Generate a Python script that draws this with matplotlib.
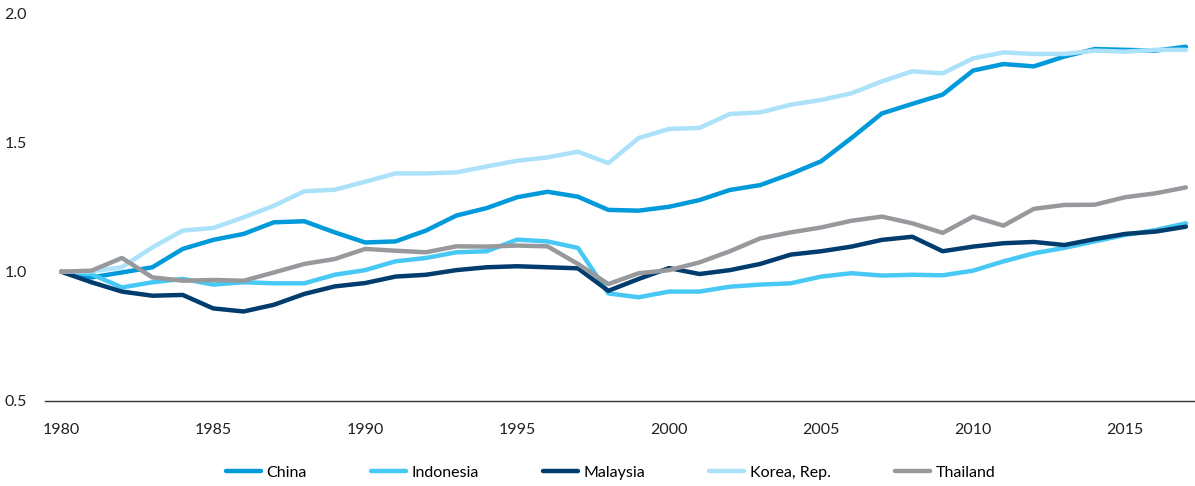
import matplotlib.pyplot as plt

plt.rcParams['font.family'] = ['Lato', 'DejaVu Sans']

years = list(range(1980, 2018))

china = [1.000, 0.978, 0.997, 1.017, 1.088, 1.123, 1.146, 1.191, 1.195, 1.152,
         1.113, 1.117, 1.159, 1.217, 1.246, 1.288, 1.309, 1.290, 1.239, 1.236,
         1.251, 1.277, 1.316, 1.335, 1.378, 1.427, 1.517, 1.612, 1.649, 1.685,
         1.778, 1.803, 1.794, 1.832, 1.861, 1.858, 1.855, 1.870]
indonesia = [1.000, 0.990, 0.939, 0.959, 0.972, 0.950, 0.959, 0.955, 0.955, 0.988,
             1.006, 1.040, 1.053, 1.075, 1.079, 1.124, 1.117, 1.092, 0.916, 0.901,
             0.923, 0.923, 0.942, 0.950, 0.955, 0.981, 0.994, 0.985, 0.988, 0.986,
             1.004, 1.040, 1.071, 1.092, 1.117, 1.142, 1.161, 1.187]
malaysia = [1.000, 0.959, 0.923, 0.907, 0.910, 0.858, 0.846, 0.872, 0.914, 0.943,
            0.956, 0.981, 0.988, 1.006, 1.017, 1.021, 1.017, 1.013, 0.926, 0.972,
            1.014, 0.991, 1.006, 1.030, 1.066, 1.079, 1.097, 1.123, 1.135, 1.079,
            1.097, 1.110, 1.115, 1.103, 1.126, 1.146, 1.155, 1.174]
korea = [1.000, 1.001, 1.017, 1.094, 1.159, 1.169, 1.210, 1.255, 1.311, 1.317,
         1.348, 1.380, 1.380, 1.384, 1.407, 1.429, 1.442, 1.464, 1.420, 1.517,
         1.552, 1.556, 1.610, 1.616, 1.646, 1.664, 1.690, 1.736, 1.775, 1.767,
         1.825, 1.848, 1.842, 1.842, 1.855, 1.851, 1.858, 1.858]
thailand = [1.000, 1.004, 1.053, 0.978, 0.965, 0.968, 0.965, 0.997, 1.030, 1.049,
            1.088, 1.081, 1.075, 1.098, 1.097, 1.101, 1.098, 1.030, 0.952, 0.994,
            1.006, 1.036, 1.079, 1.129, 1.152, 1.171, 1.197, 1.213, 1.187, 1.150,
            1.213, 1.178, 1.243, 1.258, 1.259, 1.288, 1.303, 1.326]

series = [
    ('China', china, '#009ADA'),
    ('Indonesia', indonesia, '#48C8F4'),
    ('Malaysia', malaysia, '#003D6E'),
    ('Korea, Rep.', korea, '#ABE2FA'),
    ('Thailand', thailand, '#98999C'),
]

fig = plt.figure(figsize=(11.95, 4.86), dpi=100)
ax = fig.add_axes([0.0377, 0.175, 0.9623, 0.798])

for name, vals, color in series:
    ax.plot(years, vals, color=color, lw=3.2, label=name, solid_capstyle='round')

ax.set_xlim(1979.47, 2017.3)
ax.set_ylim(0.5, 2.0)
ax.set_xticks([1980, 1985, 1990, 1995, 2000, 2005, 2010, 2015])
ax.set_yticks([0.5, 1.0, 1.5, 2.0])
ax.set_yticklabels(['0.5', '1.0', '1.5', '2.0'])

for s in ['top', 'right', 'left']:
    ax.spines[s].set_visible(False)
ax.spines['bottom'].set_color('#333333')
ax.spines['bottom'].set_linewidth(1.0)
ax.tick_params(axis='both', length=0, labelsize=11.5, colors='#222222')
ax.tick_params(axis='x', pad=16)
ax.tick_params(axis='y', pad=13)

fig.legend(loc='center', bbox_to_anchor=(0.511, 0.027), ncol=5, frameon=False,
           fontsize=11.5, handlelength=2.2, handletextpad=0.35, columnspacing=4.0)

fig.savefig('out.png', dpi=100)
